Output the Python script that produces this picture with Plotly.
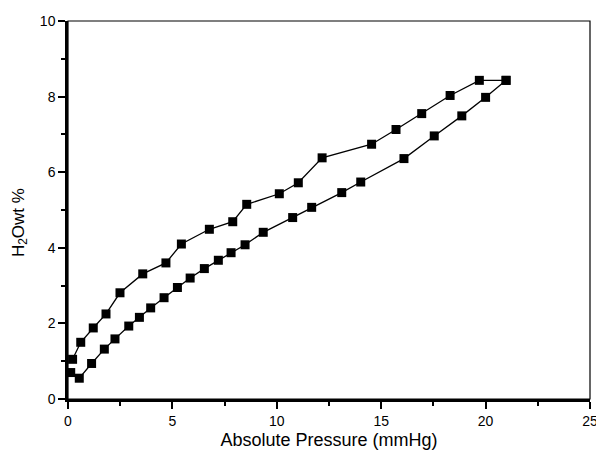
import plotly.graph_objects as go

# Adsorption (lower) branch
ads_p = [0.13, 0.54, 1.13, 1.74, 2.25, 2.91, 3.42, 3.96, 4.60, 5.24, 5.85,
         6.53, 7.20, 7.81, 8.48, 9.35, 10.76, 11.67, 13.11, 14.02, 16.09,
         17.54, 18.86, 20.00, 20.98]
ads_w = [0.70, 0.55, 0.94, 1.32, 1.59, 1.93, 2.16, 2.41, 2.68, 2.95, 3.20,
         3.45, 3.67, 3.87, 4.08, 4.41, 4.80, 5.07, 5.46, 5.74, 6.36,
         6.96, 7.49, 7.98, 8.43]

# Desorption (upper) branch
des_p = [20.98, 19.70, 18.30, 16.94, 15.71, 14.54, 12.17, 11.03, 10.12,
         8.56, 7.89, 6.77, 5.43, 4.69, 3.58, 2.49, 1.82, 1.21, 0.61, 0.22]
des_w = [8.43, 8.43, 8.03, 7.55, 7.13, 6.74, 6.38, 5.72, 5.43,
         5.15, 4.69, 4.49, 4.10, 3.60, 3.31, 2.81, 2.25, 1.88, 1.50, 1.05]

x_title = "Absolute Pressure (mmHg)"
y_title = "H<sub>2</sub>Owt %"

FONT = "Liberation Sans, Arial, sans-serif"

fig = go.Figure()
for xs, ys in [(ads_p, ads_w), (des_p, des_w)]:
    fig.add_trace(go.Scatter(
        x=xs, y=ys, mode="lines+markers",
        line=dict(color="black", width=1.3),
        marker=dict(symbol="square", size=9, color="black"),
        showlegend=False, cliponaxis=False,
    ))

fig.update_layout(
    width=596, height=456,
    margin=dict(l=68, r=6, t=21, b=57),
    paper_bgcolor="white", plot_bgcolor="white",
    font=dict(family=FONT, color="black", size=14),
    xaxis=dict(
        range=[0, 25], dtick=5, tick0=0,
        showgrid=False, zeroline=False,
        showline=True, linecolor="black", linewidth=2.5,
        ticks="outside", ticklen=7, tickwidth=2, tickcolor="black",
        minor=dict(dtick=2.5, ticks="outside", ticklen=4, tickwidth=2, tickcolor="black"),
        tickfont=dict(size=14),
        ticklabeloverflow="allow",
        title=dict(text=x_title, font=dict(size=18), standoff=6),
        automargin=False,
    ),
    yaxis=dict(
        range=[0, 10], dtick=2, tick0=0,
        showgrid=False, zeroline=False,
        showline=True, linecolor="black", linewidth=2.5,
        ticks="outside", ticklen=7, tickwidth=2, tickcolor="black",
        minor=dict(dtick=1, ticks="outside", ticklen=4, tickwidth=2, tickcolor="black"),
        tickfont=dict(size=14),
        ticklabeloverflow="allow",
        automargin=False,
    ),
    annotations=[dict(text=y_title, xref="paper", yref="paper",
                      x=-0.092, y=0.468, xanchor="center", yanchor="middle",
                      textangle=-90, showarrow=False, font=dict(size=17))],
    shapes=[dict(type="rect", xref="paper", yref="paper", x0=0, x1=1, y0=0, y1=1,
                 line=dict(color="black", width=1.2), layer="below")],
)

fig.write_html("out.html",
               config={"displayModeBar": False},
               post_script="document.body.style.margin='0';document.body.style.overflow='hidden';")
